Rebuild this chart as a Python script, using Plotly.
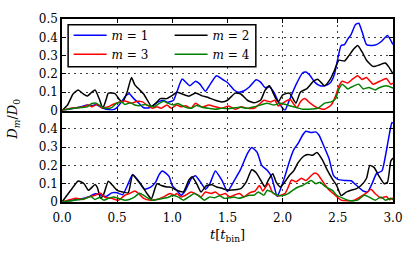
import plotly.graph_objects as go
from plotly.subplots import make_subplots

# ---------------- data ----------------
x_ticks = [0.0, 0.5, 1.0, 1.5, 2.0, 2.5, 3.0]
x_tick_labels = ["0.0", "0.5", "1.0", "1.5", "2.0", "2.5", "3.0"]
y_ticks_top = [0, 0.1, 0.2, 0.3, 0.4, 0.5]
y_tick_labels_top = ["0", "0.1", "0.2", "0.3", "0.4", "0.5"]
y_ticks_bot = [0, 0.1, 0.2, 0.3, 0.4]
y_tick_labels_bot = ["0", "0.1", "0.2", "0.3", "0.4"]

series_names = ["<i>m</i> = 1", "<i>m</i> = 2", "<i>m</i> = 3", "<i>m</i> = 4"]
series_colors = ["#0000ff", "#000000", "#ff0000", "#008000"]

# top panel
top_m1_t = [0, 0.11, 0.17, 0.23, 0.27, 0.31, 0.36, 0.40, 0.45, 0.49, 0.54, 0.58, 0.61, 0.65, 0.70, 0.74,
            0.79, 0.83, 0.88, 0.92, 0.96, 1.01, 1.04, 1.07, 1.09, 1.13, 1.16, 1.21, 1.25, 1.30, 1.34, 1.40,
            1.46, 1.50, 1.56, 1.60, 1.65, 1.70, 1.76, 1.80, 1.84, 1.88, 1.92, 1.96, 2.00, 2.02, 2.06, 2.12,
            2.18, 2.21, 2.25, 2.29, 2.34, 2.38, 2.43, 2.47, 2.50, 2.53, 2.56, 2.59, 2.62, 2.66, 2.69, 2.72,
            2.76, 2.81, 2.85, 2.90, 2.95, 3.00]
top_m1_v = [0, 0.012, 0.02, 0.03, 0.026, 0.033, 0.016, 0.007, 0.003, 0.012, 0.047, 0.082, 0.092, 0.065, 0.038, 0.015,
            0.015, 0.03, 0.05, 0.055, 0.045, 0.056, 0.1, 0.15, 0.172, 0.15, 0.135, 0.16, 0.144, 0.105, 0.14, 0.19,
            0.168, 0.153, 0.112, 0.1, 0.108, 0.13, 0.168, 0.155, 0.125, 0.13, 0.1, 0.05, 0.012, 0.0, 0.056, 0.14,
            0.205, 0.21, 0.19, 0.155, 0.135, 0.135, 0.15, 0.2, 0.285, 0.355, 0.36, 0.39, 0.415, 0.47, 0.477, 0.43,
            0.36, 0.355, 0.36, 0.38, 0.41, 0.36]

top_m2_t = [0, 0.05, 0.1, 0.147, 0.19, 0.23, 0.27, 0.30, 0.34, 0.37, 0.40, 0.42, 0.48, 0.52, 0.55, 0.59,
            0.63, 0.66, 0.70, 0.74, 0.78, 0.81, 0.85, 0.89, 0.95, 1.0, 1.04, 1.09, 1.15, 1.21, 1.27, 1.33,
            1.39, 1.45, 1.50, 1.57, 1.62, 1.68, 1.74, 1.80, 1.84, 1.88, 1.93, 1.96, 2.0, 2.06, 2.12, 2.16,
            2.22, 2.28, 2.32, 2.38, 2.43, 2.47, 2.51, 2.56, 2.60, 2.65, 2.68, 2.72, 2.76, 2.82, 2.88, 2.93,
            2.96, 3.0]
top_m2_v = [0, 0.03, 0.09, 0.112, 0.092, 0.079, 0.1, 0.112, 0.06, 0.012, 0.06, 0.095, 0.092, 0.06, 0.045, 0.1,
            0.18, 0.14, 0.115, 0.09, 0.05, 0.022, 0.04, 0.065, 0.065, 0.082, 0.1, 0.09, 0.078, 0.095, 0.08, 0.07,
            0.056, 0.047, 0.056, 0.095, 0.09, 0.056, 0.042, 0.056, 0.11, 0.135, 0.074, 0.047, 0.085, 0.095, 0.04, 0.1,
            0.12, 0.16, 0.17, 0.135, 0.17, 0.22, 0.275, 0.27, 0.30, 0.34, 0.355, 0.32, 0.275, 0.24, 0.25, 0.26,
            0.24, 0.2]

top_m3_t = [0, 0.08, 0.14, 0.2, 0.24, 0.27, 0.32, 0.36, 0.42, 0.46, 0.51, 0.57, 0.63, 0.68, 0.73, 0.77,
            0.82, 0.86, 0.9, 0.95, 0.99, 1.04, 1.08, 1.12, 1.17, 1.21, 1.27, 1.33, 1.39, 1.45, 1.51, 1.57,
            1.625, 1.68, 1.74, 1.79, 1.83, 1.89, 1.93, 1.96, 2.0, 2.04, 2.07, 2.1, 2.13, 2.16, 2.2, 2.25,
            2.31, 2.38, 2.44, 2.48, 2.51, 2.54, 2.59, 2.63, 2.68, 2.72, 2.76, 2.82, 2.88, 2.94, 2.98, 3.0]
top_m3_v = [0, 0.012, 0.016, 0.02, 0.03, 0.02, 0.033, 0.016, 0.02, 0.033, 0.044, 0.052, 0.04, 0.05, 0.047, 0.03,
            0.012, 0.02, 0.012, 0.03, 0.012, 0.03, 0.02, 0.026, 0.012, 0.04, 0.018, 0.03, 0.02, 0.012, 0.025, 0.007,
            0.02, 0.012, 0.012, 0.035, 0.056, 0.047, 0.056, 0.025, 0.04, 0.055, 0.06, 0.035, 0.015, 0.047, 0.065, 0.04,
            0.016, 0.007, 0.03, 0.08, 0.135, 0.16, 0.15, 0.17, 0.19, 0.17, 0.18, 0.144, 0.16, 0.175, 0.144, 0.15]

top_m4_t = [0, 0.08, 0.17, 0.23, 0.27, 0.31, 0.36, 0.40, 0.45, 0.49, 0.54, 0.57, 0.62, 0.66, 0.70, 0.75,
            0.79, 0.83, 0.88, 0.92, 0.96, 1.01, 1.05, 1.11, 1.17, 1.22, 1.27, 1.33, 1.39, 1.45, 1.51, 1.57,
            1.62, 1.68, 1.74, 1.80, 1.86, 1.92, 1.98, 2.04, 2.10, 2.18, 2.23, 2.32, 2.38, 2.44, 2.48, 2.51,
            2.54, 2.59, 2.63, 2.69, 2.73, 2.78, 2.84, 2.88, 2.94, 3.0]
top_m4_v = [0, 0.01, 0.016, 0.02, 0.038, 0.04, 0.02, 0.012, 0.016, 0.038, 0.047, 0.033, 0.042, 0.03, 0.026, 0.033,
            0.026, 0.02, 0.038, 0.05, 0.04, 0.03, 0.038, 0.02, 0.012, 0.028, 0.018, 0.012, 0.007, 0.012, 0.01, 0.015,
            0.018, 0.012, 0.02, 0.03, 0.04, 0.03, 0.04, 0.03, 0.02, 0.007, 0.007, 0.012, 0.04, 0.047, 0.065, 0.118,
            0.144, 0.118, 0.13, 0.144, 0.118, 0.126, 0.112, 0.126, 0.135, 0.122]

# bottom panel
bot_m1_t = [0, 0.1, 0.2, 0.25, 0.3, 0.35, 0.4, 0.45, 0.5, 0.55, 0.6, 0.64, 0.7, 0.75, 0.8, 0.85,
            0.88, 0.91, 0.97, 1.0, 1.04, 1.08, 1.12, 1.17, 1.21, 1.26, 1.3, 1.34, 1.39, 1.45, 1.5, 1.57,
            1.62, 1.68, 1.72, 1.77, 1.81, 1.86, 1.9, 1.95, 1.98, 2.02, 2.06, 2.1, 2.14, 2.18, 2.21, 2.26,
            2.3, 2.33, 2.37, 2.42, 2.46, 2.5, 2.56, 2.62, 2.67, 2.73, 2.77, 2.81, 2.85, 2.9, 2.94, 2.97,
            2.99, 3.0]
bot_m1_v = [0, 0.01, 0.02, 0.03, 0.045, 0.04, 0.03, 0.05, 0.05, 0.04, 0.1, 0.15, 0.11, 0.07, 0.08, 0.11,
            0.15, 0.17, 0.14, 0.09, 0.064, 0.037, 0.064, 0.126, 0.144, 0.105, 0.07, 0.1, 0.17, 0.118, 0.058, 0.127,
            0.18, 0.264, 0.298, 0.27, 0.2, 0.173, 0.136, 0.03, 0.07, 0.14, 0.22, 0.285, 0.32, 0.365, 0.387, 0.38,
            0.383, 0.365, 0.31, 0.238, 0.145, 0.124, 0.118, 0.116, 0.09, 0.06, 0.055, 0.1, 0.155, 0.17, 0.28, 0.38,
            0.435, 0.43]

bot_m2_t = [0, 0.08, 0.147, 0.2, 0.24, 0.3, 0.32, 0.35, 0.38, 0.42, 0.46, 0.5, 0.55, 0.6, 0.64, 0.69,
            0.73, 0.77, 0.81, 0.86, 0.9, 0.95, 0.99, 1.04, 1.1, 1.15, 1.18, 1.22, 1.26, 1.31, 1.36, 1.4,
            1.45, 1.5, 1.57, 1.62, 1.67, 1.72, 1.76, 1.81, 1.84, 1.87, 1.91, 1.94, 1.98, 2.02, 2.06, 2.1,
            2.14, 2.19, 2.23, 2.27, 2.31, 2.36, 2.4, 2.45, 2.49, 2.53, 2.58, 2.62, 2.67, 2.71, 2.76, 2.79,
            2.83, 2.87, 2.92, 2.95, 2.98, 3.0]
bot_m2_v = [0, 0.064, 0.115, 0.1, 0.064, 0.096, 0.08, 0.02, 0.046, 0.113, 0.09, 0.064, 0.055, 0.05, 0.148, 0.115,
            0.082, 0.046, 0.018, 0.1, 0.09, 0.082, 0.08, 0.064, 0.055, 0.12, 0.138, 0.1, 0.055, 0.09, 0.094, 0.082,
            0.075, 0.065, 0.067, 0.073, 0.11, 0.176, 0.16, 0.11, 0.082, 0.12, 0.155, 0.11, 0.082, 0.11, 0.145, 0.17,
            0.215, 0.25, 0.26, 0.255, 0.27, 0.23, 0.18, 0.126, 0.09, 0.035, 0.055, 0.064, 0.073, 0.09, 0.13, 0.2,
            0.188, 0.144, 0.1, 0.108, 0.223, 0.24]

bot_m3_t = [0, 0.08, 0.13, 0.19, 0.24, 0.3, 0.35, 0.39, 0.45, 0.51, 0.57, 0.61, 0.66, 0.7, 0.74, 0.8,
            0.86, 0.92, 0.98, 1.02, 1.04, 1.08, 1.12, 1.17, 1.21, 1.26, 1.3, 1.35, 1.39, 1.43, 1.48, 1.52,
            1.57, 1.61, 1.65, 1.7, 1.75, 1.79, 1.82, 1.87, 1.91, 1.96, 2.02, 2.05, 2.08, 2.12, 2.17, 2.21,
            2.26, 2.29, 2.32, 2.36, 2.42, 2.48, 2.53, 2.59, 2.65, 2.71, 2.76, 2.8, 2.84, 2.89, 2.94, 2.97,
            3.0]
bot_m3_v = [0, 0.014, 0.02, 0.014, 0.028, 0.037, 0.048, 0.025, 0.02, 0.01, 0.037, 0.046, 0.06, 0.043, 0.02, 0.01,
            0.014, 0.028, 0.046, 0.037, 0.046, 0.028, 0.037, 0.055, 0.046, 0.028, 0.055, 0.046, 0.055, 0.037, 0.046, 0.028,
            0.04, 0.046, 0.028, 0.05, 0.06, 0.09, 0.06, 0.1, 0.05, 0.033, 0.046, 0.08, 0.12, 0.11, 0.13, 0.117,
            0.145, 0.158, 0.15, 0.115, 0.065, 0.035, 0.01, 0.007, 0.01, 0.03, 0.05, 0.07, 0.045, 0.022, 0.03, 0.012,
            0.022]

bot_m4_t = [0, 0.11, 0.17, 0.22, 0.26, 0.3, 0.34, 0.38, 0.42, 0.47, 0.51, 0.57, 0.61, 0.66, 0.7, 0.73,
            0.77, 0.82, 0.86, 0.92, 0.96, 1.0, 1.05, 1.1, 1.15, 1.2, 1.25, 1.29, 1.34, 1.38, 1.43, 1.47,
            1.52, 1.56, 1.6, 1.65, 1.7, 1.74, 1.78, 1.83, 1.86, 1.9, 1.94, 2.0, 2.05, 2.09, 2.14, 2.18,
            2.23, 2.26, 2.3, 2.34, 2.39, 2.45, 2.49, 2.55, 2.61, 2.68, 2.74, 2.78, 2.84, 2.89, 2.93, 2.98,
            3.0]
bot_m4_v = [0, 0.01, 0.014, 0.02, 0.03, 0.014, 0.025, 0.01, 0.02, 0.028, 0.02, 0.01, 0.014, 0.028, 0.048, 0.04,
            0.025, 0.01, 0.014, 0.02, 0.025, 0.035, 0.028, 0.01, 0.028, 0.046, 0.028, 0.01, 0.028, 0.023, 0.034, 0.02,
            0.023, 0.028, 0.02, 0.028, 0.037, 0.037, 0.055, 0.037, 0.064, 0.055, 0.04, 0.035, 0.046, 0.064, 0.082, 0.09,
            0.108, 0.117, 0.1, 0.108, 0.082, 0.064, 0.037, 0.02, 0.007, 0.01, 0.037, 0.028, 0.01, 0.028, 0.01, 0.02,
            0.012]

top_series = [(top_m1_t, top_m1_v), (top_m2_t, top_m2_v), (top_m3_t, top_m3_v), (top_m4_t, top_m4_v)]
bot_series = [(bot_m1_t, bot_m1_v), (bot_m2_t, bot_m2_v), (bot_m3_t, bot_m3_v), (bot_m4_t, bot_m4_v)]

# ---------------- figure ----------------
FONT = "DejaVu Serif"
fig = make_subplots(rows=2, cols=1, shared_xaxes=True, vertical_spacing=0)

legend_of = ["legend", "legend2", "legend", "legend2"]
for i, (t, v) in enumerate(top_series):
    assert len(t) == len(v)
    fig.add_trace(go.Scatter(x=t, y=v, mode="lines", name=series_names[i],
                             line=dict(color=series_colors[i], width=1.5, shape="spline", smoothing=0.5),
                             legend=legend_of[i], legendgroup=f"g{i}", showlegend=True), row=1, col=1)
for i, (t, v) in enumerate(bot_series):
    assert len(t) == len(v)
    fig.add_trace(go.Scatter(x=t, y=v, mode="lines", name=series_names[i],
                             line=dict(color=series_colors[i], width=1.5, shape="spline", smoothing=0.5),
                             showlegend=False), row=2, col=1)

axis_common = dict(showline=True, linecolor="black", linewidth=1.5,
                   ticks="inside", ticklen=4, tickwidth=1, tickcolor="black",
                   showgrid=True, gridcolor="rgba(0,0,0,0.75)", gridwidth=1, griddash="2px,4px",
                   zeroline=False, tickfont=dict(family=FONT, size=12, color="black"))

fig.update_xaxes(range=[0, 3], tickvals=x_ticks, ticktext=x_tick_labels, **axis_common)
fig.update_xaxes(showticklabels=False, mirror="ticks", row=1, col=1)
fig.update_xaxes(mirror=False, ticklabelstandoff=4, row=2, col=1)
fig.update_xaxes(title=dict(text="<i>t</i>[<i>t</i><sub>bin</sub>]", font=dict(family=FONT, size=13, color="black"),
                            standoff=6), row=2, col=1)
fig.update_yaxes(range=[0, 0.5], tickvals=y_ticks_top, ticktext=y_tick_labels_top, mirror="ticks",
                 row=1, col=1, **axis_common)
fig.update_yaxes(range=[0, 0.5], tickvals=y_ticks_bot, ticktext=y_tick_labels_bot, mirror="ticks",
                 row=2, col=1, **axis_common)

# legend frame
fig.add_shape(type="rect", xref="paper", yref="paper", x0=0.0185, x1=0.5856, y0=0.739, y1=0.968,
              line=dict(color="black", width=1.5), fillcolor="white", layer="above")

leg_common = dict(bgcolor="rgba(0,0,0,0)", borderwidth=0, font=dict(family=FONT, size=12, color="black"),
                  yanchor="top", xanchor="left", tracegroupgap=0, itemwidth=33)
fig.update_layout(
    width=415, height=257,
    margin=dict(l=62, r=12, t=13, b=55),
    paper_bgcolor="white", plot_bgcolor="white",
    legend=dict(x=0.02, y=0.99, **leg_common),
    legend2=dict(x=0.325, y=0.99, **leg_common),
    annotations=[dict(text="<i>D<sub>m</sub></i>/<i>D</i><sub>0</sub>", xref="paper", yref="paper",
                      x=-0.145, y=0.45, xanchor="center", yanchor="middle", textangle=-90, showarrow=False,
                      font=dict(family=FONT, size=13, color="black"))],
)

fig.write_html("out.html", config={"displayModeBar": False},
               post_script="document.body.style.margin='0';")
